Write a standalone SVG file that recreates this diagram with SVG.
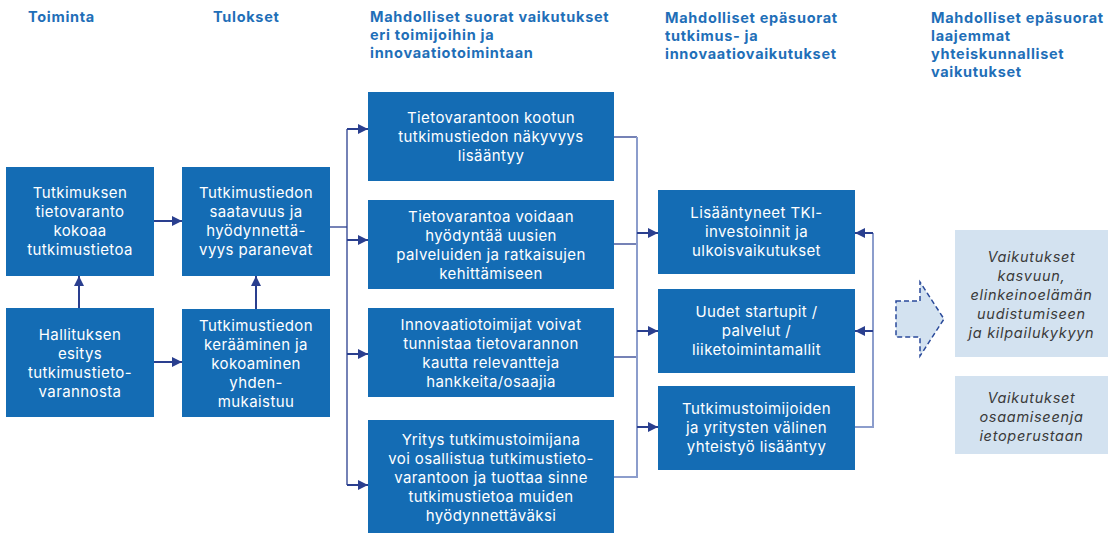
<svg xmlns="http://www.w3.org/2000/svg" width="1118" height="534" viewBox="0 0 1118 534">
<defs>
<marker id="ah" viewBox="0 0 10 10" refX="10" refY="5" markerWidth="10" markerHeight="10" markerUnits="userSpaceOnUse" orient="auto">
<path d="M0,0 L10,5 L0,10 z" fill="#2a3f8f"/>
</marker>
<style>
.hd{font-family:Inter,"Open Sans",sans-serif;font-weight:700;font-size:14.5px;letter-spacing:0.7px;fill:#1f6fb8}
.bx{fill:#146cb4}
.lt{fill:#d3e2f0}
.tx{font-family:Inter,"Open Sans",sans-serif;font-size:15px;letter-spacing:0.4px;fill:#ffffff;text-anchor:middle}
.it{font-family:Inter,"Open Sans",sans-serif;font-size:14.5px;letter-spacing:0.7px;font-style:italic;fill:#3a3a3a;text-anchor:middle}
.ar{fill:none;stroke:#2a3f8f;stroke-width:2;marker-end:url(#ah)}
.ln{fill:none;stroke:#2a3f8f;stroke-width:1.3}
.lg{fill:none;stroke:#8c9dcc;stroke-width:2}
</style>
</defs>

<g id="headers">
<text class="hd" x="28" y="22">Toiminta</text>
<text class="hd" x="213" y="22">Tulokset</text>
<text class="hd" x="370" y="22">Mahdolliset suorat vaikutukset</text>
<text class="hd" x="370" y="40">eri toimijoihin ja</text>
<text class="hd" x="370" y="58">innovaatiotoimintaan</text>
<text class="hd" x="665" y="23">Mahdolliset epäsuorat</text>
<text class="hd" x="665" y="41">tutkimus- ja</text>
<text class="hd" x="665" y="59">innovaatiovaikutukset</text>
<text class="hd" x="931" y="23">Mahdolliset epäsuorat</text>
<text class="hd" x="931" y="41">laajemmat</text>
<text class="hd" x="931" y="59">yhteiskunnalliset</text>
<text class="hd" x="931" y="77">vaikutukset</text>
</g>

<g id="connectors">
<path class="ar" d="M154,221 H182"/>
<path class="ar" d="M154,362 H182"/>
<path class="ar" d="M79,308 V276"/>
<path class="ar" d="M256,309 V276"/>
<path class="ln" d="M330,227 H347"/>
<path class="ln" d="M347,129 V485"/>
<path class="ar" d="M347,129 H368"/>
<path class="ar" d="M347,240 H368"/>
<path class="ar" d="M347,354 H368"/>
<path class="ar" d="M347,485 H368"/>
<path class="ln" d="M614,137 H637"/>
<path class="ln" d="M614,244 H637"/>
<path class="ln" d="M614,357 H637"/>
<path class="lg" d="M614,477 H637"/>
<path class="lg" d="M637,137 V478"/>
<path class="ar" d="M637,233 H658"/>
<path class="ar" d="M637,331 H658"/>
<path class="ar" d="M637,427 H658"/>
<path class="lg" d="M855,427 H873 V233"/>
<path class="ar" d="M873,233 H855"/>
<path class="ar" d="M873,331 H855"/>
</g>

<g id="n1">
<rect class="bx" x="6" y="167" width="148" height="109"/>
<text class="tx" x="80" y="198">Tutkimuksen</text>
<text class="tx" x="80" y="217">tietovaranto</text>
<text class="tx" x="80" y="236">kokoaa</text>
<text class="tx" x="80" y="255">tutkimustietoa</text>
</g>
<g id="n2">
<rect class="bx" x="6" y="308" width="148" height="109"/>
<text class="tx" x="80" y="340">Hallituksen</text>
<text class="tx" x="80" y="359">esitys</text>
<text class="tx" x="80" y="378">tutkimustieto-</text>
<text class="tx" x="80" y="397">varannosta</text>
</g>
<g id="n3">
<rect class="bx" x="182" y="167" width="148" height="109"/>
<text class="tx" x="256" y="198">Tutkimustiedon</text>
<text class="tx" x="256" y="217">saatavuus ja</text>
<text class="tx" x="256" y="236">hyödynnettä-</text>
<text class="tx" x="256" y="255">vyys paranevat</text>
</g>
<g id="n4">
<rect class="bx" x="182" y="309" width="148" height="108"/>
<text class="tx" x="256" y="331">Tutkimustiedon</text>
<text class="tx" x="256" y="350">kerääminen ja</text>
<text class="tx" x="256" y="369">kokoaminen</text>
<text class="tx" x="256" y="388">yhden-</text>
<text class="tx" x="256" y="407">mukaistuu</text>
</g>

<g id="n5">
<rect class="bx" x="368" y="92" width="246" height="89"/>
<text class="tx" x="491" y="123">Tietovarantoon kootun</text>
<text class="tx" x="491" y="142">tutkimustiedon näkyvyys</text>
<text class="tx" x="491" y="161">lisääntyy</text>
</g>
<g id="n6">
<rect class="bx" x="368" y="200" width="246" height="89"/>
<text class="tx" x="491" y="222">Tietovarantoa voidaan</text>
<text class="tx" x="491" y="241">hyödyntää uusien</text>
<text class="tx" x="491" y="260">palveluiden ja ratkaisujen</text>
<text class="tx" x="491" y="279">kehittämiseen</text>
</g>
<g id="n7">
<rect class="bx" x="368" y="308" width="246" height="89"/>
<text class="tx" x="491" y="330">Innovaatiotoimijat voivat</text>
<text class="tx" x="491" y="349">tunnistaa tietovarannon</text>
<text class="tx" x="491" y="368">kautta relevantteja</text>
<text class="tx" x="491" y="387">hankkeita/osaajia</text>
</g>
<g id="n8">
<rect class="bx" x="368" y="420" width="246" height="113"/>
<text class="tx" x="491" y="445">Yritys tutkimustoimijana</text>
<text class="tx" x="491" y="464">voi osallistua tutkimustieto-</text>
<text class="tx" x="491" y="483">varantoon ja tuottaa sinne</text>
<text class="tx" x="491" y="502">tutkimustietoa muiden</text>
<text class="tx" x="491" y="521">hyödynnettäväksi</text>
</g>

<g id="n9">
<rect class="bx" x="658" y="190" width="197" height="84"/>
<text class="tx" x="756.5" y="218">Lisääntyneet TKI-</text>
<text class="tx" x="756.5" y="237">investoinnit ja</text>
<text class="tx" x="756.5" y="256">ulkoisvaikutukset</text>
</g>
<g id="n10">
<rect class="bx" x="658" y="289" width="197" height="84"/>
<text class="tx" x="756.5" y="317">Uudet startupit /</text>
<text class="tx" x="756.5" y="336">palvelut /</text>
<text class="tx" x="756.5" y="355">liiketoimintamallit</text>
</g>
<g id="n11">
<rect class="bx" x="658" y="386" width="197" height="84"/>
<text class="tx" x="756.5" y="414">Tutkimustoimijoiden</text>
<text class="tx" x="756.5" y="433">ja yritysten välinen</text>
<text class="tx" x="756.5" y="452">yhteistyö lisääntyy</text>
</g>

<g id="bigarrow">
<path d="M896,301 H920 V282 L944,319 L920,356 V337 H896 Z" fill="#d3e2f0" stroke="#2a4a9a" stroke-width="1.5" stroke-dasharray="5,3"/>
</g>

<g id="n12">
<rect class="lt" x="955" y="230" width="153" height="127"/>
<text class="it" x="1031.5" y="262">Vaikutukset</text>
<text class="it" x="1031.5" y="281">kasvuun,</text>
<text class="it" x="1031.5" y="300">elinkeinoelämän</text>
<text class="it" x="1031.5" y="319">uudistumiseen</text>
<text class="it" x="1031.5" y="338">ja kilpailukykyyn</text>
</g>
<g id="n13">
<rect class="lt" x="955" y="376" width="153" height="78"/>
<text class="it" x="1031.5" y="403">Vaikutukset</text>
<text class="it" x="1031.5" y="422">osaamiseenja</text>
<text class="it" x="1031.5" y="441">ietoperustaan</text>
</g>
</svg>
